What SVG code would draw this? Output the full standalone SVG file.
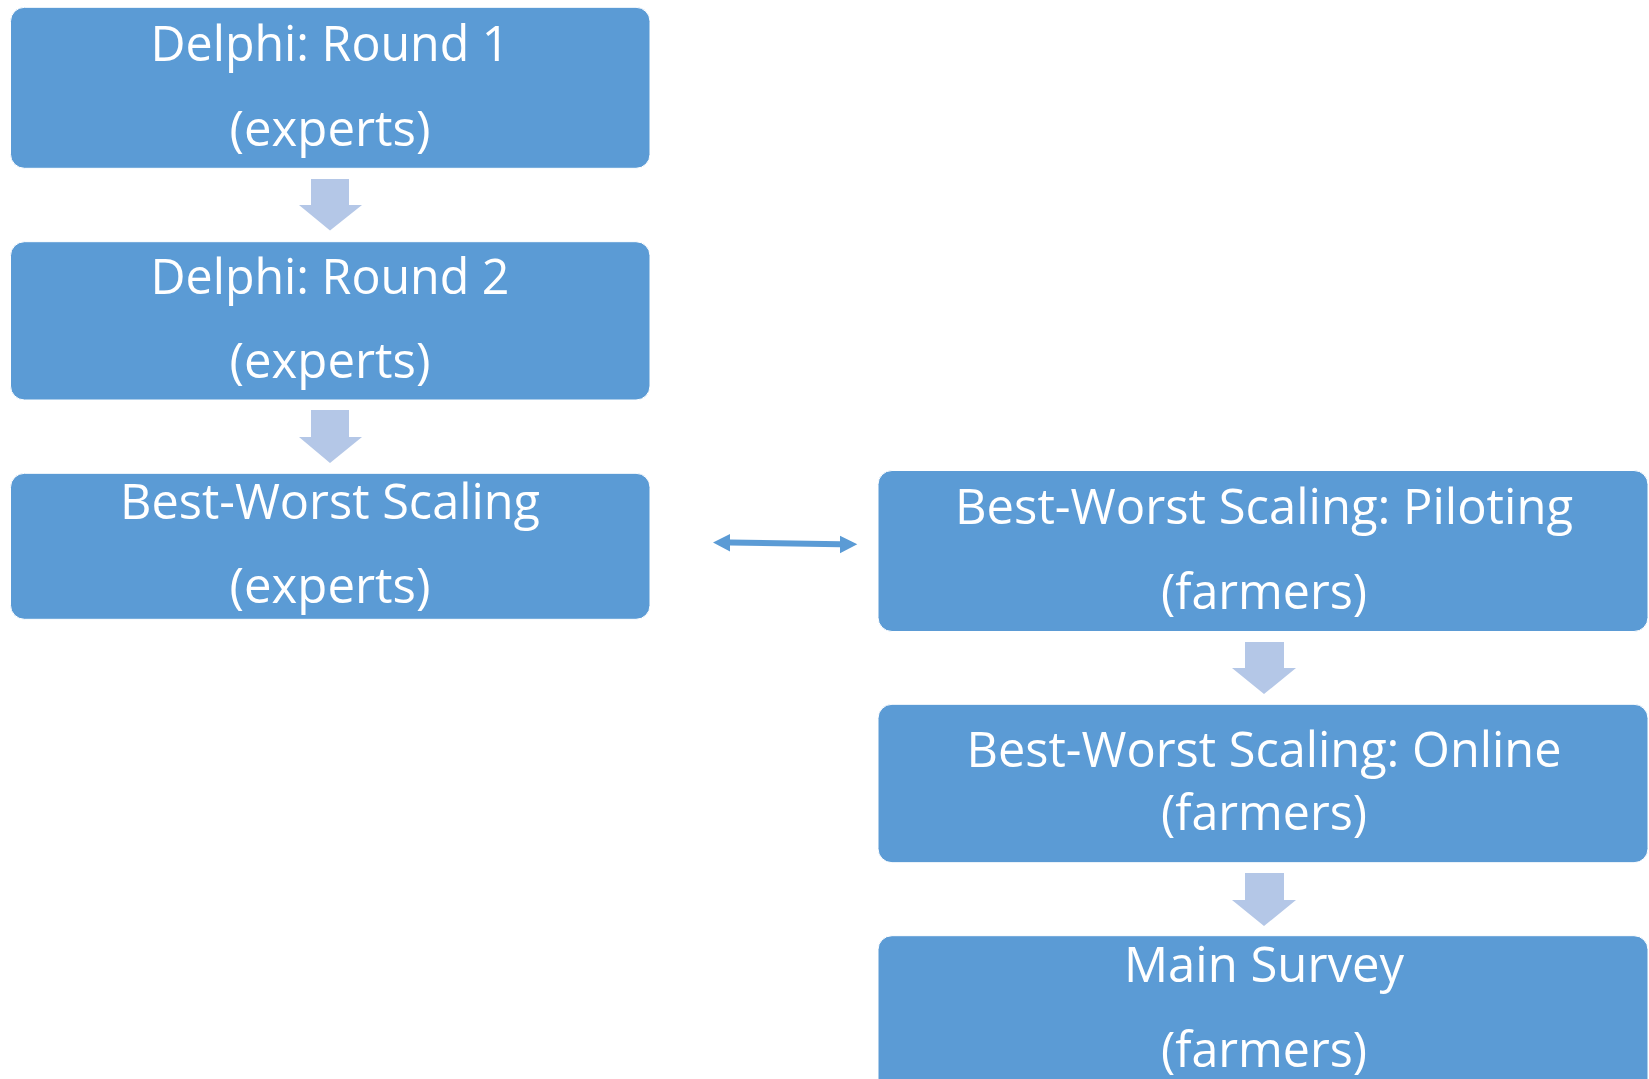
<svg xmlns="http://www.w3.org/2000/svg" width="1649" height="1079" viewBox="0 0 1649 1079">
<style>
.box{fill:#5B9BD5;stroke:#ffffff;stroke-width:1}
.t{font-family:"Open Sans","Noto Sans","Liberation Sans",sans-serif;font-size:50px;fill:#ffffff;text-anchor:middle}
.blk{fill:#B4C7E7}
.dbl{fill:#5B9BD5}
</style>
<rect width="1649" height="1079" fill="#ffffff"/>
<g id="connectors">
<polygon class="blk" points="311,179 349,179 349,205 362,205 330,230.5 299,205 311,205"/>
<polygon class="blk" points="311,410 349,410 349,437 362,437 330,463 299,437 311,437"/>
<polygon class="blk" points="1245,642 1284,642 1284,668 1296,668 1264,694 1232,668 1245,668"/>
<polygon class="blk" points="1245,873 1284,873 1284,900 1296,900 1264,926 1232,900 1245,900"/>
<polygon class="dbl" points="713,542.5 730,534 730,539.5 840,541.2 840,535.7 857.3,544.3 840,553.3 840,547.2 730,545.5 730,551.5"/>
</g>
<g id="node-delphi1">
<rect class="box" x="10.5" y="7.3" width="639.5" height="161" rx="14"/>
<text class="t" x="330" y="61" textLength="359" lengthAdjust="spacingAndGlyphs">Delphi: Round 1</text>
<text class="t" x="330" y="145.7" textLength="201" lengthAdjust="spacingAndGlyphs">(experts)</text>
</g>
<g id="node-delphi2">
<rect class="box" x="10.5" y="241.7" width="639.5" height="158.3" rx="14"/>
<text class="t" x="330" y="294" textLength="359" lengthAdjust="spacingAndGlyphs">Delphi: Round 2</text>
<text class="t" x="330" y="378.3" textLength="201" lengthAdjust="spacingAndGlyphs">(experts)</text>
</g>
<g id="node-bws-experts">
<rect class="box" x="10.5" y="473.3" width="639.5" height="146" rx="14"/>
<text class="t" x="330" y="519" textLength="420" lengthAdjust="spacingAndGlyphs">Best-Worst Scaling</text>
<text class="t" x="330" y="603.3" textLength="201" lengthAdjust="spacingAndGlyphs">(experts)</text>
</g>
<g id="node-bws-piloting">
<rect class="box" x="878" y="470.5" width="770" height="161" rx="14"/>
<text class="t" x="1264" y="524" textLength="618" lengthAdjust="spacingAndGlyphs">Best-Worst Scaling: Piloting</text>
<text class="t" x="1264" y="609.3" textLength="206" lengthAdjust="spacingAndGlyphs">(farmers)</text>
</g>
<g id="node-bws-online">
<rect class="box" x="878" y="704.3" width="770" height="158.4" rx="14"/>
<text class="t" x="1264" y="767.3" textLength="595" lengthAdjust="spacingAndGlyphs">Best-Worst Scaling: Online</text>
<text class="t" x="1264" y="830" textLength="206" lengthAdjust="spacingAndGlyphs">(farmers)</text>
</g>
<g id="node-main-survey">
<rect class="box" x="878" y="935.7" width="770" height="160" rx="14"/>
<text class="t" x="1264" y="981.7" textLength="280" lengthAdjust="spacingAndGlyphs">Main Survey</text>
<text class="t" x="1264" y="1066.7" textLength="206" lengthAdjust="spacingAndGlyphs">(farmers)</text>
</g>
</svg>
